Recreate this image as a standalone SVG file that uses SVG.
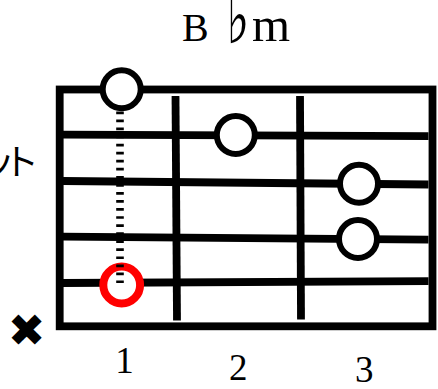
<svg xmlns="http://www.w3.org/2000/svg" width="438" height="389" viewBox="0 0 438 389">
<style>
.ln{stroke:#000;stroke-width:7.8;fill:none;stroke-linecap:butt}
.dot{fill:#fff;stroke:#000;stroke-width:6}
.red{fill:#fff;stroke:#ff0000;stroke-width:8}
.ser{font-family:"Liberation Serif","Times New Roman",serif;fill:#000}
.num{font-family:"Liberation Serif","Times New Roman",serif;font-size:37px;text-anchor:middle;fill:#000}
</style>
<rect width="438" height="389" fill="#fff"/>
<g id="title">
<text class="ser" x="182" y="40.7" font-size="40">B</text>
<text transform="translate(226.5,42.7) scale(1.05,1.68)" font-family="'DejaVu Serif',serif" font-size="46" fill="#000">♭</text>
<text class="ser" x="252" y="40.7" font-size="49">m</text>
</g>
<g id="side-label">
<text y="175" font-family="'Noto Sans CJK JP',sans-serif" font-size="36" fill="#000"><tspan x="-21">ッ</tspan><tspan x="3">ト</tspan></text>
</g>
<g id="mute">
<text x="26.5" y="346" font-family="'DejaVu Sans',sans-serif" font-size="45" text-anchor="middle" fill="#000">✖</text>
</g>
<g id="connectors">
<rect id="frame" x="59.7" y="89.5" width="372.8" height="236.8" class="ln"/>
<line x1="175.5" y1="96" x2="177" y2="320.5" class="ln"/>
<line x1="300" y1="96" x2="301" y2="319.5" class="ln"/>
<line x1="63" y1="134.6" x2="428.5" y2="136.2" class="ln"/>
<line x1="63" y1="181" x2="428.5" y2="184.5" class="ln"/>
<line x1="63" y1="236.7" x2="428.5" y2="239.7" class="ln"/>
<line x1="63" y1="283" x2="428.5" y2="281.2" class="ln"/>
</g>
<g id="note-red"><circle cx="121.7" cy="285" r="18.4" class="red"/></g>
<g id="barre"><line x1="120" y1="111.5" x2="120" y2="283" stroke="#000" stroke-width="7.6" stroke-dasharray="2.7 5.35"/></g>
<g id="note-open"><circle cx="121.7" cy="89.3" r="19" class="dot"/></g>
<g id="note-1"><circle cx="235.8" cy="135" r="19" class="dot"/></g>
<g id="note-2"><circle cx="359" cy="183.8" r="19" class="dot"/></g>
<g id="note-3"><circle cx="358" cy="239" r="19" class="dot"/></g>
<g id="numbers">
<text class="num" x="124.5" y="373">1</text>
<text class="num" x="238.3" y="380">2</text>
<text class="num" x="364.2" y="381.7">3</text>
</g>
</svg>
